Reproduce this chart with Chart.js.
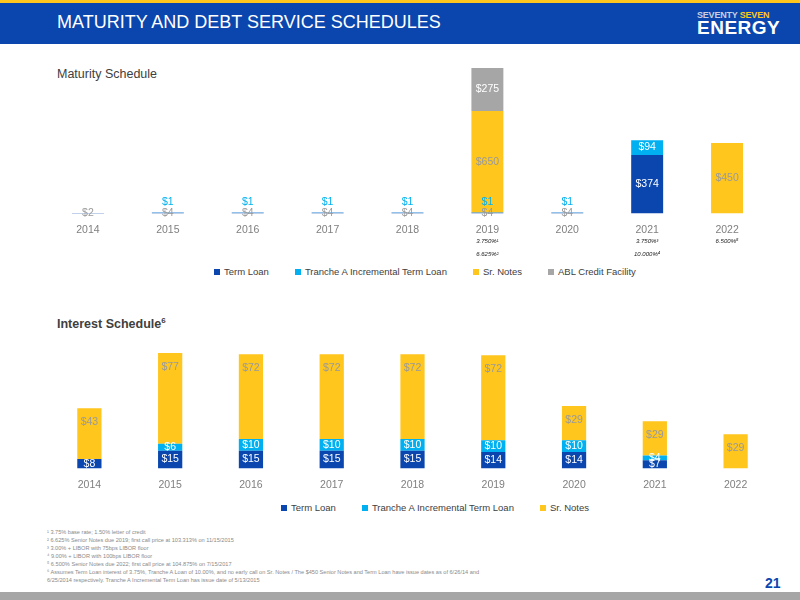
<!DOCTYPE html>
<html><head><meta charset="utf-8">
<script src="https://cdn.jsdelivr.net/npm/chart.js@4"></script>
<style>
body{margin:0;width:800px;height:600px;position:relative;background:#fff;font-family:'Liberation Sans Narrow','Liberation Sans',sans-serif;overflow:hidden}
.abs{position:absolute}
#hdr{left:0;top:0;width:800px;height:44px;background:#0a46ae;border-top:3px solid #ffc61e;box-sizing:border-box}
#ttl{left:57px;top:12px;color:#fff;font:18px 'Liberation Sans',sans-serif}
#logo1{left:697px;top:10px;font:bold 9px 'Liberation Sans',sans-serif;color:#c8cfe0;letter-spacing:-0.2px}
#logo1 b{color:#ffc61e}
#logo2{left:697px;top:17px;font:bold 19px 'Liberation Sans',sans-serif;color:#fff;letter-spacing:0.5px}
.sub{font-size:12.5px;color:#404040}
.leg{font-size:9.5px;color:#404040;white-space:nowrap}
.leg span{display:inline-block;width:6px;height:6px;margin:0 4px 0 0}
.leg i{font-style:normal;margin-right:26px}
#foot{left:47px;top:528px;font:5.6px 'Liberation Sans',sans-serif;color:#8a8a8a;line-height:8px}
#pg{left:765px;top:575px;font:bold 14px 'Liberation Sans Narrow',sans-serif;color:#0a46ae}
#bot{left:0;top:592px;width:800px;height:8px;background:#a6a6a6}
</style></head><body>
<div id="hdr" class="abs"></div>
<div id="ttl" class="abs">MATURITY AND DEBT SERVICE SCHEDULES</div>
<div id="logo1" class="abs">SEVENTY <b>SEVEN</b></div>
<div id="logo2" class="abs">ENERGY</div>
<div class="abs sub" style="left:57px;top:67px">Maturity Schedule</div>
<div class="abs sub" style="left:57px;top:316px;font-weight:bold">Interest Schedule<sup style="font-size:8px">6</sup></div>
<div class="abs leg" style="left:214px;top:266px"><span style="background:#0a46ae"></span><i>Term Loan</i><span style="background:#00b0f0"></span><i>Tranche A Incremental Term Loan</i><span style="background:#ffc61e"></span><i>Sr. Notes</i><span style="background:#a6a6a6"></span>ABL Credit Facility</div>
<div class="abs leg" style="left:281px;top:502px"><span style="background:#0a46ae"></span><i>Term Loan</i><span style="background:#00b0f0"></span><i>Tranche A Incremental Term Loan</i><span style="background:#ffc61e"></span>Sr. Notes</div>
<canvas id="c1" class="abs" style="left:48px;top:68px"></canvas>
<canvas id="c2" class="abs" style="left:49px;top:353px"></canvas>
<div id="foot" class="abs">
¹ 3.75% base rate; 1.50% letter of credit<br>
² 6.625% Senior Notes due 2019; first call price at 103.313% on 11/15/2015<br>
³ 3.00% + LIBOR with 75bps LIBOR floor<br>
⁴ 9.00% + LIBOR with 100bps LIBOR floor<br>
⁵ 6.500% Senior Notes due 2022; first call price at 104.875% on 7/15/2017<br>
⁶ Assumes Term Loan interest of 3.75%, Tranche A Loan of 10.00%, and no early call on Sr. Notes / The $450 Senior Notes and Term Loan have issue dates as of 6/26/14 and<br>
6/25/2014 respectively. Tranche A Incremental Term Loan has issue date of 5/13/2015</div>
<div id="pg" class="abs">21</div>
<div id="bot" class="abs"></div>
<script>
const years = ['2014','2015','2016','2017','2018','2019','2020','2021','2022'];
// Maturity schedule ($mm)
const matTermLoan = [2,4,4,4,4,4,4,374,0];
const matTranche  = [0,1,1,1,1,1,1,94,0];
const matSrNotes  = [0,0,0,0,0,650,0,0,450];
const matABL      = [0,0,0,0,0,275,0,0,0];
// rates printed under some years
const rateYears = ['2019','2021','2022'];
const rateLine1 = ['3.750%¹','3.750%³','6.500%⁵'];
const rateLine2 = ['6.625%²','10.000%⁴',''];
// Interest schedule ($mm)
const intTermLoan = [8,15,15,15,15,14,14,7,0];
const intTranche  = [0,6,10,10,10,10,10,4,0];
const intSrNotes  = [43,77,72,72,72,72,29,29,29];

const C = {tl:'#0a46ae', tr:'#00b0f0', sr:'#ffc61e', abl:'#a6a6a6'};
const FONT = "'Liberation Sans Narrow','Liberation Sans',sans-serif";

const labels = {
  id:'labels',
  afterDatasetsDraw(chart, args, opts){
    const ctx = chart.ctx;
    ctx.save();
    ctx.font = '10.5px ' + FONT;
    ctx.textAlign = 'center'; ctx.textBaseline = 'middle';
    chart.data.datasets.forEach((ds, di) => {
      chart.getDatasetMeta(di).data.forEach((bar, i) => {
        const v = ds.data[i];
        if (!v) return;
        const h = bar.base - bar.y;
        let y = (bar.y + bar.base) / 2, col = ds.lab;
        if (opts.mode === 'mat' && h < 8) {
          if (ds.tiny === 'above') { y = bar.y - 11; col = '#00b0f0'; }
          else { col = '#9a9a9a'; }
        }
        if (opts.mode === 'int' && ds.top) y = bar.y + 14;
        ctx.fillStyle = col;
        ctx.fillText('$' + v, bar.x, y);
      });
    });
    if (opts.mode === 'mat') {
      ctx.font = 'italic 6px ' + FONT;
      ctx.fillStyle = '#222';
      const xs = chart.scales.x;
      rateYears.forEach((yr, k) => {
        const x = xs.getPixelForValue(years.indexOf(yr));
        ctx.fillText(rateLine1[k], x, chart.chartArea.bottom + 28);
        ctx.fillText(rateLine2[k], x, chart.chartArea.bottom + 41);
      });
    }
    ctx.restore();
  }
};

function mk(id, w, h, datasets, bp, mode, max, padB){
  const el = document.getElementById(id);
  el.width = w; el.height = h; el.style.width = w+'px'; el.style.height = h+'px';
  return new Chart(el, {
    type:'bar',
    data:{labels:years, datasets},
    options:{
      responsive:false, animation:false,
      layout:{padding:{bottom:padB}},
      datasets:{bar:{barPercentage:bp, categoryPercentage:1}},
      plugins:{legend:{display:false}, tooltip:{enabled:false}, labels:{mode}},
      scales:{
        x:{stacked:true, grid:{display:false}, border:{display:false},
           ticks:{color:'#7f7f7f', font:{family:FONT,size:10.5}, padding:2}},
        y:{stacked:true, display:false, min:0, max}
      }
    },
    plugins:[labels]
  });
}

mk('c1', 719, 200, [
  {label:'Term Loan', data:matTermLoan, backgroundColor:C.tl, lab:'#fff'},
  {label:'Tranche A Incremental Term Loan', data:matTranche, backgroundColor:C.tr, lab:'#fff', tiny:'above'},
  {label:'Sr. Notes', data:matSrNotes, backgroundColor:C.sr, lab:'#9a9a9a'},
  {label:'ABL Credit Facility', data:matABL, backgroundColor:C.abl, lab:'#fff'}
], 0.4, 'mat', 930, 30);

mk('c2', 727, 140, [
  {label:'Term Loan', data:intTermLoan, backgroundColor:C.tl, lab:'#fff'},
  {label:'Tranche A Incremental Term Loan', data:intTranche, backgroundColor:C.tr, lab:'#fff'},
  {label:'Sr. Notes', data:intSrNotes, backgroundColor:C.sr, lab:'#9a9a9a', top:true}
], 0.3, 'int', 98, 0);
</script>
</body></html>
